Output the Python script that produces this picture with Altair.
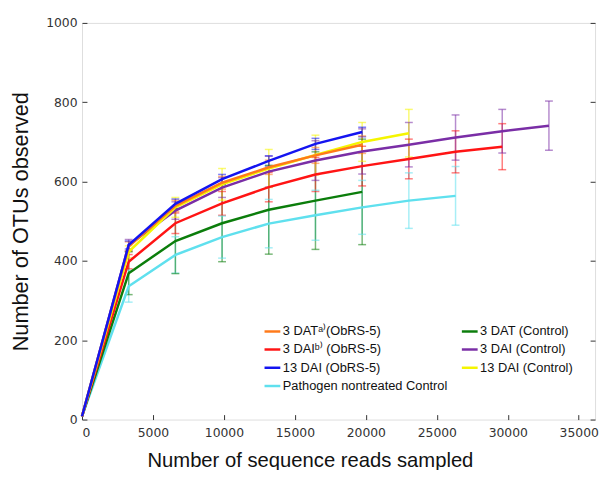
import altair as alt
import pandas as pd

# x positions (number of sequence reads sampled)
xs = [0, 3290, 6580, 9870, 13160, 16450, 19740, 23030, 26320, 29610, 32900]

series_names = [
    "3 DATᵃ⁾(ObRS-5)",
    "3 DAIᵇ⁾ (ObRS-5)",
    "13 DAI (ObRS-5)",
    "Pathogen nontreated Control",
    "3 DAT (Control)",
    "3 DAI (Control)",
    "13 DAI (Control)",
]
series_colors = ["#ff7a1a", "#ff1414", "#1414f0", "#5fe0ee", "#0b7d0b", "#7a2ea6", "#f5f500"]

dat_obrs = [8, 436, 539, 597, 636, 666, 693]
dat_obrs_err = [0, 12, 14, 16, 18, 20, 22]

dat_ctrl = [8, 369, 450, 495, 529, 552, 574]
dat_ctrl_err = [0, 54, 82, 97, 112, 123, 133]

dai_obrs = [8, 398, 495, 545, 586, 618, 639, 657, 675, 688]
dai_obrs_err = [0, 18, 26, 30, 37, 43, 50, 50, 53, 58]

dai_ctrl = [8, 440, 527, 585, 625, 653, 676, 693, 711, 727, 741]
dai_ctrl_err = [0, 14, 22, 25, 39, 50, 57, 56, 57, 55, 62]

dai13_obrs = [8, 440, 544, 606, 652, 695, 725]
dai13_obrs_err = [0, 10, 12, 12, 13, 14, 12]

dai13_ctrl = [8, 423, 535, 593, 633, 667, 700, 722]
dai13_ctrl_err = [0, 15, 25, 40, 48, 50, 49, 60]

pathogen = [8, 336, 415, 460, 494, 515, 535, 552, 564]
pathogen_err = [0, 40, 46, 53, 61, 63, 68, 70, 74]

all_series = [
    (series_names[3], pathogen, pathogen_err),
    (series_names[4], dat_ctrl, dat_ctrl_err),
    (series_names[1], dai_obrs, dai_obrs_err),
    (series_names[5], dai_ctrl, dai_ctrl_err),
    (series_names[6], dai13_ctrl, dai13_ctrl_err),
    (series_names[0], dat_obrs, dat_obrs_err),
    (series_names[2], dai13_obrs, dai13_obrs_err),
]

rows = []
order = 0
for name, ys, es in all_series:
    for i, (y, e) in enumerate(zip(ys, es)):
        rows.append({"series": name, "x": xs[i], "y": y, "err": e,
                     "lo": y - e, "hi": y + e, "k": order})
    order += 1
df = pd.DataFrame(rows)

x_enc = alt.X("x:Q", scale=alt.Scale(domain=[0, 36150], nice=False),
              axis=alt.Axis(values=[0, 5000, 10000, 15000, 20000, 25000, 30000, 35000],
                            format="d", title="Number of sequence reads sampled",
                            offset=-5, tickSize=5, domain=False, grid=False,
                            labelPadding=7, labelFont="DejaVu Sans", labelFontSize=12.5,
                            labelColor="#333", tickColor="#333",
                            titleFont="Liberation Sans", titleFontSize=20.5,
                            titleFontWeight="normal", titleColor="#111",
                            titleX=231, titleY=37, titleAlign="center", titleBaseline="top"))
y_scale = alt.Scale(domain=[0, 1000], nice=False)

color_scale = alt.Scale(domain=series_names, range=series_colors)
legend = alt.Legend(title=None, orient="none", legendX=183.5, legendY=303,
                    columns=2, symbolType="stroke", symbolSize=256, symbolOpacity=1,
                    symbolStrokeWidth=2.5, labelOffset=1, columnPadding=9,
                    rowPadding=1.5, padding=0, labelFont="Liberation Sans",
                    labelFontSize=13, labelColor="#111", labelLimit=400)
color_enc = alt.Color("series:N", scale=color_scale, sort=series_names, legend=legend)

base = alt.Chart(df)
errdf = base.transform_filter("datum.err > 0")

err_rule = errdf.mark_rule(strokeWidth=1.5, opacity=0.55).encode(
    x=x_enc,
    y=alt.Y("lo:Q", scale=y_scale,
            axis=alt.Axis(orient="right", values=[0, 200, 400, 600, 800, 1000],
                          labels=False, title=None, offset=-5, tickSize=5,
                          domain=False, grid=False, tickColor="#333")),
    y2="hi:Q",
    color=color_enc,
)
err_lo = errdf.mark_tick(orient="horizontal", size=8, thickness=1.5, opacity=0.55).encode(
    x=x_enc, y=alt.Y("lo:Q", scale=y_scale, axis=None),
    color=color_enc,
)
err_hi = errdf.mark_tick(orient="horizontal", size=8, thickness=1.5, opacity=0.55).encode(
    x=x_enc, y=alt.Y("hi:Q", scale=y_scale, axis=None),
    color=color_enc,
)

lines = base.mark_line(strokeWidth=2.5).encode(
    x=x_enc,
    y=alt.Y("y:Q", scale=y_scale,
            axis=alt.Axis(orient="left", values=[0, 200, 400, 600, 800, 1000], format="d",
                          title="Number of OTUs observed", offset=-5, tickSize=5,
                          domain=False, grid=False, labelPadding=5,
                          labelFont="DejaVu Sans", labelFontSize=12.5, labelColor="#333",
                          tickColor="#333", titleFont="Liberation Sans", titleFontSize=22,
                          titleFontWeight="normal", titleColor="#111", titlePadding=13)),
    color=color_enc,
    order="k:Q",
    detail="series:N",
)

chart = alt.layer(err_rule, err_lo, err_hi, lines).resolve_axis(y="independent").properties(
    width=520, height=402,
    autosize=alt.AutoSizeParams(type="none"),
    padding={"left": 75, "top": 12, "right": 4, "bottom": 48},
).configure_view(stroke="#333", strokeWidth=1.5).configure(background="white")

chart.save("out.html", embed_options={"renderer": "svg", "actions": False})
